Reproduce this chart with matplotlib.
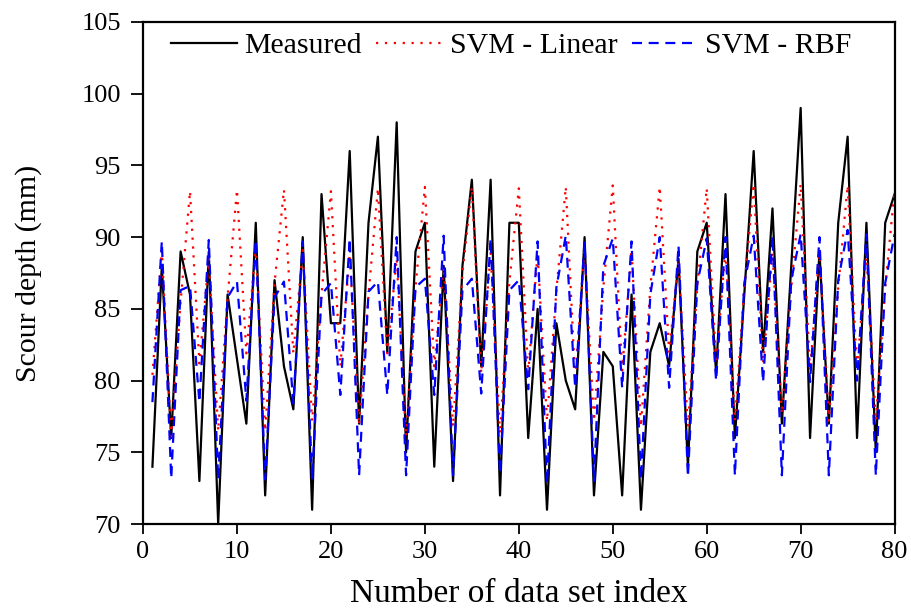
import matplotlib
matplotlib.use("Agg")
import matplotlib.pyplot as plt
import numpy as np

plt.rcParams["font.family"] = ["Liberation Serif", "DejaVu Serif"]

index = np.arange(1, 81)

measured = [74, 88, 76, 89, 86, 73, 89, 70, 86, 81.5,
            77, 91, 72, 87, 81, 78, 90, 71, 93, 84,
            84, 96, 77, 91, 97, 82, 98, 75, 89, 91,
            74, 88, 73, 88, 94, 81, 94, 72, 91, 91,
            76, 85, 71, 84, 80, 78, 90, 72, 82, 81,
            72, 86, 71, 82, 84, 81, 88.5, 74, 89, 91,
            80.5, 93, 76, 86, 96, 82, 92, 77, 88, 99,
            76, 89, 77, 91, 97, 76, 91, 75, 91, 93]

svm_linear = [80.4, 89.1, 76.1, 85.5, 93.2, 81.2, 88.5, 76.5, 85.8, 93.3,
              81.9, 89.3, 76.5, 86.8, 93.3, 81.9, 89.1, 77.2, 86.0, 93.2,
              81.0, 88.8, 76.9, 86.0, 93.4, 81.9, 88.5, 76.1, 86.5, 93.5,
              81.0, 87.9, 76.8, 87.5, 93.5, 80.5, 88.9, 76.3, 86.9, 93.4,
              80.5, 88.9, 77.2, 86.3, 93.5, 80.0, 89.1, 77.2, 86.5, 93.6,
              80.7, 89.1, 76.8, 86.5, 93.5, 82.0, 88.3, 76.8, 86.6, 93.4,
              81.2, 89.2, 77.2, 86.5, 93.7, 81.2, 88.9, 77.7, 86.5, 93.7,
              80.7, 89.1, 77.2, 86.5, 93.6, 80.7, 88.9, 77.2, 86.5, 93.3]

svm_rbf = [78.5, 89.7, 73.2, 86.3, 86.6, 78.5, 89.8, 73.1, 85.8, 86.9,
           78.6, 89.8, 73.1, 85.8, 86.9, 78.4, 89.7, 73.1, 86.0, 86.8,
           79.0, 89.9, 73.4, 86.2, 86.9, 79.0, 90.0, 73.4, 86.5, 87.1,
           79.0, 90.1, 73.4, 86.3, 87.1, 79.1, 89.9, 73.5, 86.3, 87.0,
           79.4, 89.7, 72.8, 86.5, 90.1, 79.5, 89.7, 73.0, 88.0, 89.9,
           79.5, 89.7, 73.1, 86.0, 90.0, 79.5, 89.4, 73.3, 86.8, 89.9,
           80.0, 90.0, 73.4, 86.8, 90.1, 79.9, 90.1, 73.4, 87.0, 90.2,
           79.9, 90.0, 73.4, 87.0, 90.5, 80.0, 90.2, 73.4, 86.8, 90.2]

x_ticks = [0, 10, 20, 30, 40, 50, 60, 70, 80]
y_ticks = [70, 75, 80, 85, 90, 95, 100, 105]

fig = plt.figure(figsize=(9.11, 6.08), dpi=100)
ax = fig.add_axes([0.157, 0.138, 0.825, 0.826])

ax.plot(index, measured, color="black", lw=1.6, label="Measured")
ax.plot(index, svm_linear, color="red", lw=1.6, linestyle=(0, (1, 3)),
        label="SVM - Linear")
ax.plot(index, svm_rbf, color="blue", lw=1.6, linestyle=(0, (4.5, 3)),
        label="SVM - RBF")

ax.set_xlim(0, 80)
ax.set_ylim(70, 105)
ax.set_xticks(x_ticks)
ax.set_yticks(y_ticks)
ax.tick_params(axis="x", direction="out", length=7, width=1.3,
               labelsize=19, pad=5)
ax.tick_params(axis="y", direction="out", length=9, width=1.3,
               labelsize=19, pad=7)
for s in ax.spines.values():
    s.set_linewidth(1.6)

ax.set_xlabel("Number of data set index", fontsize=24, labelpad=11)
ax.set_ylabel("Scour depth (mm)", fontsize=21.5, labelpad=28)

ax.legend(loc="upper center", ncol=3, frameon=False, fontsize=21.5,
          handlelength=2.2, handletextpad=0.25, columnspacing=0.5,
          borderaxespad=0.0, borderpad=0.35,
          bbox_to_anchor=(0.49, 1.0))

fig.savefig("out.png", dpi=100)
